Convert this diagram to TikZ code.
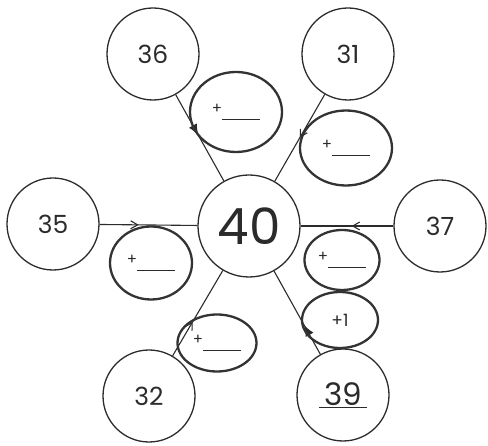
\documentclass[tikz,border=0pt]{standalone}
\usepackage{fontspec}
\setmainfont{Poppins}
\usetikzlibrary{arrows.meta,decorations.markings,shapes.geometric}
\definecolor{inkdark}{HTML}{2B2B2B}
\definecolor{pencil}{HTML}{333333}
\newcommand{\blank}{\rule[-7pt]{38pt}{0.9pt}}

\begin{document}
\begin{tikzpicture}[x=1pt, y=-1pt,
  num/.style={draw=inkdark, circle, line width=1.3pt, minimum size=92pt, inner sep=0pt, font=\fontsize{25}{25}\selectfont, text=inkdark},
  hub/.style={num, minimum size=102pt, font=\fontsize{50}{50}\selectfont},
  oval/.style={draw=pencil, ellipse, line width=2.3pt, inner sep=0pt, font=\fontsize{15}{15}\selectfont, text=inkdark},
  spoke/.style={draw=inkdark, line width=1.1pt},
  midarr/.style={postaction={decorate, decoration={markings, mark=at position #1 with {\arrow{Straight Barb[length=7pt,width=8pt,line width=1.1pt]}}}}},
  penarr/.style={postaction={decorate, decoration={markings, mark=at position #1 with {\arrow{Latex[length=11pt,width=9pt]}}}}}]
\useasboundingbox (0,0) rectangle (488,446);
% number circles
\node[hub] (hub) at (249,226) {40};
\node[num] (n36) at (153,54) {36};
\node[num] (n31) at (348,54) {31};
\node[num] (n35) at (53,224) {35};
\node[num] (n37) at (440,226) {37};
\node[num] (n32) at (149,396) {32};
\node[num, font=\fontsize{31}{31}\selectfont] (n39) at (343,395) {\underline{\,39\,}};
% spokes into the hub
\draw[spoke, penarr=0.47] (n36) -- (hub);
\draw[spoke, midarr=0.5] (n31) -- (hub);
\draw[spoke, midarr=0.4] (n35) -- (hub);
\draw[spoke, midarr=0.45] (n37) -- (hub);
\draw[spoke, midarr=0.4] (n32) -- (hub);
\draw[spoke, penarr=0.35] (n39) -- (hub);
% hand drawn ovals
\node[oval, minimum width=92pt, minimum height=80pt] (ov36) at (236,112) {+\blank};
\node[oval, minimum width=92pt, minimum height=75pt] (ov31) at (346,148) {+\blank};
\node[oval, minimum width=82pt, minimum height=73pt] (ov35) at (151,263) {+\blank};
\node[oval, minimum width=75pt, minimum height=60pt] (ov37) at (342,260) {+\blank};
\node[oval, minimum width=76pt, minimum height=56pt, font=\fontsize{17}{17}\selectfont] (ov39) at (340,320) {+1};
\node[oval, minimum width=79pt, minimum height=57pt] (ov32) at (217,343) {+\blank};
\end{tikzpicture}
\end{document}
